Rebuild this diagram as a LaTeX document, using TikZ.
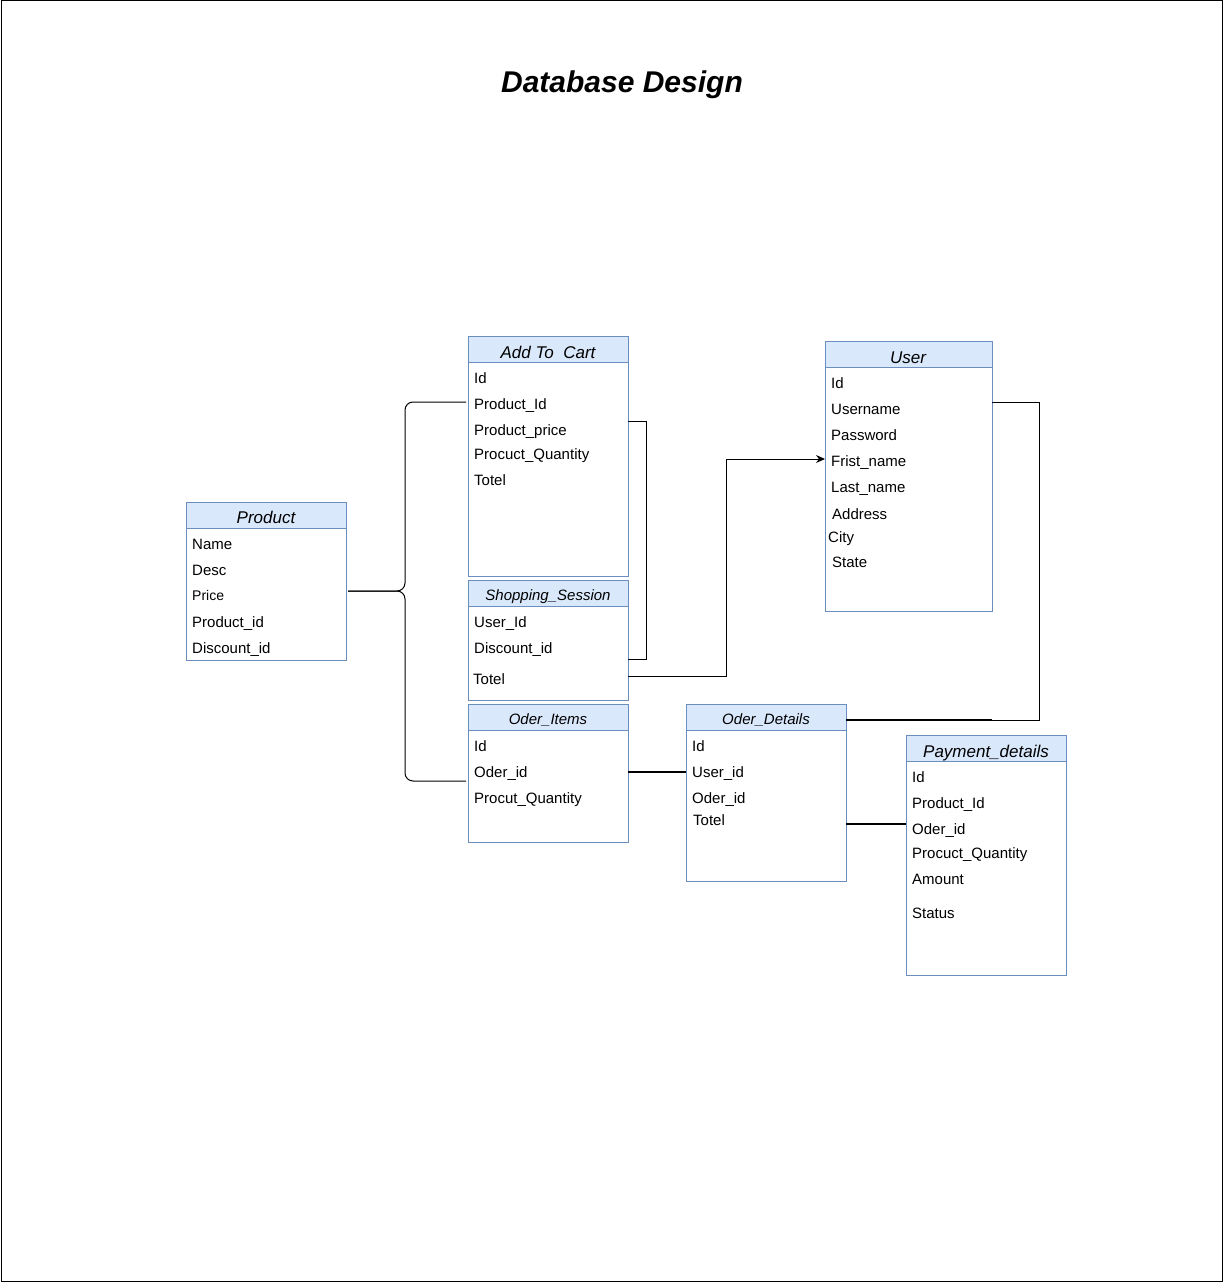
\documentclass[tikz,border=0pt]{standalone}
\usepackage{fontspec}
\setmainfont{Liberation Sans}
\usetikzlibrary{arrows.meta}
\definecolor{hdrfill}{HTML}{DAE8FC}
\definecolor{hdrline}{HTML}{6C8EBF}
\begin{document}
\begin{tikzpicture}[x=1pt,y=-1pt,
 tbox/.style={draw=hdrline, fill=white, line width=1pt, inner sep=0, outer sep=0, anchor=north west, minimum width=160pt},
 thead/.style={draw=hdrline, fill=hdrfill, line width=1pt, inner sep=0, outer sep=0, anchor=north west, minimum width=160pt, minimum height=26pt},
 tbig/.style={font=\fontsize{17}{19}\selectfont\itshape, inner sep=0, text height=12pt, text depth=4pt},
 tsmall/.style={font=\fontsize{15}{17}\selectfont\itshape, inner sep=0, text height=11pt, text depth=3.5pt},
 row/.style={anchor=west, inner sep=0, font=\fontsize{15}{17}\selectfont, text height=11pt, text depth=3pt},
 link/.style={draw=black, line width=1pt},
 heavylink/.style={draw=black, line width=2pt},
]
\useasboundingbox (0,0) rectangle (1224,1284);
\draw[line width=1pt] (1,1) rectangle (1222,1281);

\node[font=\fontsize{30}{36}\selectfont\bfseries\itshape, inner sep=0] (title) at (622,85) {Database Design};

% Product
\node[tbox, minimum height=158pt] (product) at (186,502) {};
\node[thead] (productH) at (186,502) {};
\node[tbig] (productT) at (266,519) {Product};
\node[row] (p1) at (192,545) {Name};
\node[row] (p2) at (192,571) {Desc};
\node[row, font=\fontsize{14}{16}\selectfont] (p3) at (192,596) {Price};
\node[row] (p4) at (192,623) {Product\_id};
\node[row] (p5) at (192,649) {Discount\_id};

% Add To Cart
\node[tbox, minimum height=240pt] (cart) at (468,336) {};
\node[thead] (cartH) at (468,336) {};
\node[tbig] (cartT) at (548,354) {Add To\ \ Cart};
\node[row] (c1) at (474,379) {Id};
\node[row] (c2) at (474,405) {Product\_Id};
\node[row] (c3) at (474,431) {Product\_price};
\node[row] (c4) at (474,455) {Procuct\_Quantity};
\node[row] (c5) at (474,481) {Totel};

% Shopping Session
\node[tbox, minimum height=120pt] (session) at (468,580) {};
\node[thead] (sessionH) at (468,580) {};
\node[tsmall] (sessionT) at (548,597) {Shopping\_Session};
\node[row] (s1) at (474,623) {User\_Id};
\node[row] (s2) at (474,649) {Discount\_id};
\node[row] (s3) at (473,680) {Totel};

% Oder Items
\node[tbox, minimum height=138pt] (items) at (468,704) {};
\node[thead] (itemsH) at (468,704) {};
\node[tsmall] (itemsT) at (548,721) {Oder\_Items};
\node[row] (i1) at (474,747) {Id};
\node[row] (i2) at (474,773) {Oder\_id};
\node[row] (i3) at (474,799) {Procut\_Quantity};

% Oder Details
\node[tbox, minimum height=177pt] (details) at (686,704) {};
\node[thead] (detailsH) at (686,704) {};
\node[tsmall] (detailsT) at (766,721) {Oder\_Details};
\node[row] (d1) at (692,747) {Id};
\node[row] (d2) at (692,773) {User\_id};
\node[row] (d3) at (692,799) {Oder\_id};
\node[row] (d4) at (693,821) {Totel};

% User
\node[tbox, minimum width=167pt, minimum height=270pt] (user) at (825,341) {};
\node[thead, minimum width=167pt] (userH) at (825,341) {};
\node[tbig] (userT) at (908,359) {User};
\node[row] (u1) at (831,384) {Id};
\node[row] (u2) at (831,410) {Username};
\node[row] (u3) at (831,436) {Password};
\node[row] (u4) at (831,462) {Frist\_name};
\node[row] (u5) at (831,488) {Last\_name};
\node[row] (u6) at (832,515) {Address};
\node[row] (u7) at (828,538) {City};
\node[row] (u8) at (832,563) {State};

% Payment details
\node[tbox, minimum height=240pt] (payment) at (906,735) {};
\node[thead] (paymentH) at (906,735) {};
\node[tbig] (paymentT) at (986,753) {Payment\_details};
\node[row] (y1) at (912,778) {Id};
\node[row] (y2) at (912,804) {Product\_Id};
\node[row] (y3) at (912,830) {Oder\_id};
\node[row] (y4) at (912,854) {Procuct\_Quantity};
\node[row] (y5) at (912,880) {Amount};
\node[row] (y6) at (912,914) {Status};

% Connectors
\draw[link, rounded corners=8pt] ([xshift=2pt,yshift=-89pt]product.north east) -- (405,591) -- (405,402) -- ([xshift=-2pt,yshift=-66pt]cart.north west);
\draw[link, rounded corners=8pt] ([xshift=2pt,yshift=-89pt]product.north east) -- (405,591) -- (405,781) -- ([xshift=-2pt,yshift=-77pt]items.north west);
\draw[link] ([yshift=-85pt]cart.north east) -- ++(18,0) |- ([yshift=-79pt]session.north east);
\draw[link, -{Stealth[length=9pt,width=8pt]}] ([yshift=-96pt]session.north east) -- ++(98,0) |- ([yshift=-118pt]user.north west);
\draw[link] ([yshift=-61pt]user.north east) -- ++(47,0) |- ([yshift=-16pt]details.north east);
\draw[heavylink] ([yshift=-16pt]details.north east) -- ++(146,0);
\draw[heavylink] ([yshift=-68pt]items.north east) -- ([yshift=-68pt]details.north west);
\draw[heavylink] ([yshift=-120pt]details.north east) -- ([yshift=-89pt]payment.north west);
\end{tikzpicture}
\end{document}
